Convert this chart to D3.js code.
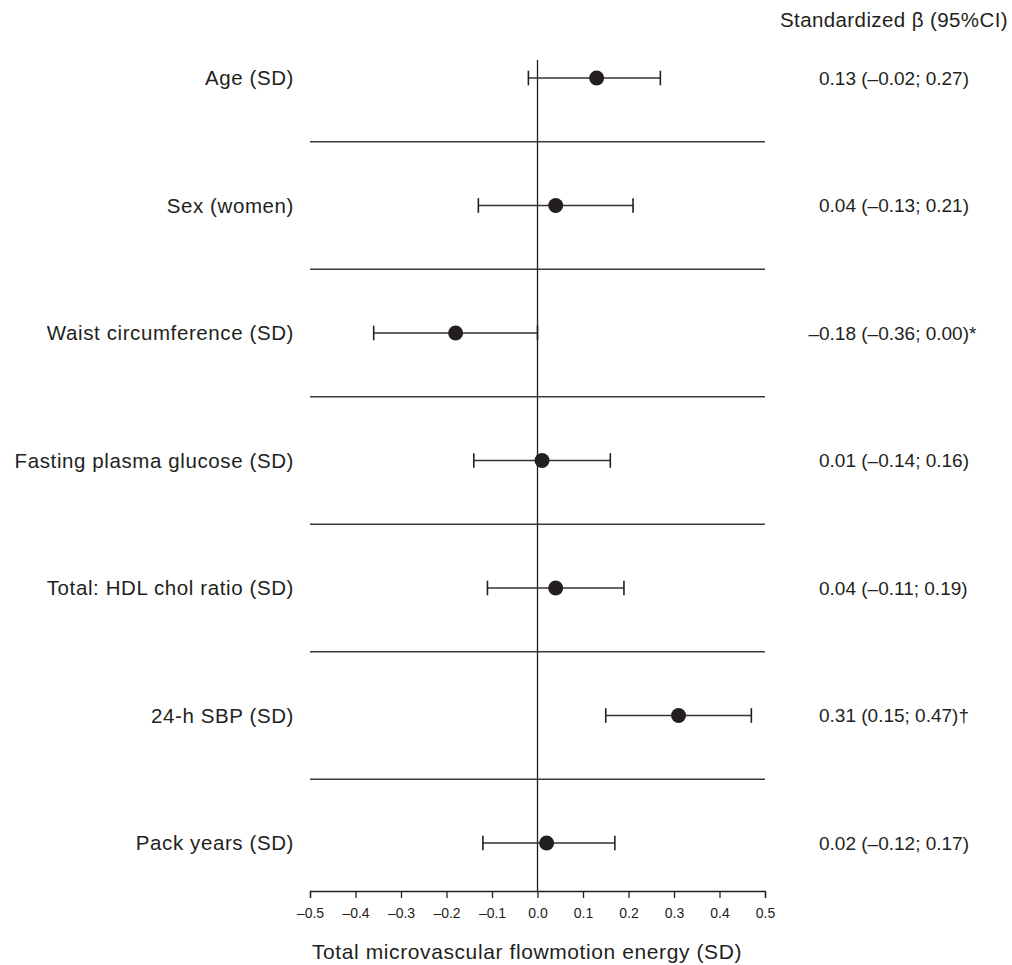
<!DOCTYPE html>
<html>
<head>
<meta charset="utf-8">
<script src="https://cdn.jsdelivr.net/npm/d3@7"></script>
<style>
  body { margin: 0; background: #fff; }
  text { font-family: "Liberation Sans", Arial, Helvetica, sans-serif; fill: #231f20; }
</style>
</head>
<body>
<svg id="chart"></svg>
<script>
// data
var labels = ['Age (SD)', 'Sex (women)', 'Waist circumference (SD)', 'Fasting plasma glucose (SD)',
  'Total: HDL chol ratio (SD)', '24-h SBP (SD)', 'Pack years (SD)'];
var betas = [0.13, 0.04, -0.18, 0.01, 0.04, 0.31, 0.02];
var lower = [-0.02, -0.13, -0.36, -0.14, -0.11, 0.15, -0.12];
var upper = [0.27, 0.21, 0.00, 0.16, 0.19, 0.47, 0.17];
var marks = ['', '', '*', '', '', '\u2020', ''];
var ticks = [-0.5, -0.4, -0.3, -0.2, -0.1, 0.0, 0.1, 0.2, 0.3, 0.4, 0.5];

var width = 1012;
var height = 965;
var ink = '#231f20';

var rows = labels.map(function(d, i) {
  return { label: d, beta: betas[i], lo: lower[i], hi: upper[i], mark: marks[i] };
});

// dash-style minus like the print figure
var dash = function(s) { return s.replace('\u2212', '\u2013').replace('-', '\u2013'); };
var num = function(v) { return dash(d3.format('.2f')(v)); };
var tickFmt = function(v) { return dash(d3.format('.1f')(v)); };

var x = d3.scaleLinear().domain([-0.5, 0.5]).range([310, 765]);
var y = d3.scaleBand().domain(labels).range([14.25, 906.75]);
var axisY = 891;
var estX = 819;

var svg = d3.select('#chart')
  .attr('width', width)
  .attr('height', height);

// separators between rows
svg.append('g')
  .selectAll('line')
  .data(labels.slice(0, -1))
  .enter()
  .append('line')
    .attr('x1', x(-0.5))
    .attr('x2', x(0.5))
    .attr('y1', function(d) { return y(d) + y.bandwidth(); })
    .attr('y2', function(d) { return y(d) + y.bandwidth(); })
    .style('stroke', '#3a3a3a')
    .style('stroke-width', 1.4);

// zero line
svg.append('line')
  .attr('x1', x(0)).attr('x2', x(0))
  .attr('y1', 60).attr('y2', axisY)
  .style('stroke', ink)
  .style('stroke-width', 1.3);

// x axis
var axis = svg.append('g')
  .attr('transform', 'translate(0,' + axisY + ')')
  .call(d3.axisBottom(x).tickValues(ticks).tickFormat(tickFmt).tickSize(7).tickPadding(10).tickSizeOuter(7));
axis.select('.domain').style('stroke', ink).style('stroke-width', 1.3);
axis.selectAll('.tick line').style('stroke', ink).style('stroke-width', 1.3);
axis.selectAll('.tick text')
  .style('font-size', '14px')
  .style('fill', ink)
  .style('font-family', '"Liberation Sans", Arial, sans-serif');

// axis title
svg.append('text')
  .attr('x', 527)
  .attr('y', 952)
  .attr('dy', '0.35em')
  .attr('text-anchor', 'middle')
  .style('font-size', '21px')
  .style('letter-spacing', '0.6px')
  .text('Total microvascular flowmotion energy (SD)');

// column header
svg.append('text')
  .attr('x', 894)
  .attr('y', 20)
  .attr('dy', '0.35em')
  .attr('text-anchor', 'middle')
  .style('font-size', '20.5px')
  .style('letter-spacing', '0.4px')
  .text('Standardized \u03b2 (95%CI)');

var row = svg.selectAll('g.row')
  .data(rows)
  .enter()
  .append('g')
    .attr('class', 'row')
    .attr('transform', function(d) { return 'translate(0,' + (y(d.label) + y.bandwidth() / 2) + ')'; });

// row labels
row.append('text')
  .attr('x', 294)
  .attr('dy', '0.35em')
  .attr('text-anchor', 'end')
  .style('font-size', '20.5px')
  .style('letter-spacing', '0.6px')
  .text(function(d) { return d.label; });

// CI lines and caps
row.append('line')
  .attr('x1', function(d) { return x(d.lo); })
  .attr('x2', function(d) { return x(d.hi); })
  .style('stroke', '#333')
  .style('stroke-width', 1.3);
row.selectAll('line.cap')
  .data(function(d) { return [d.lo, d.hi]; })
  .enter()
  .append('line')
    .attr('class', 'cap')
    .attr('x1', function(v) { return x(v); })
    .attr('x2', function(v) { return x(v); })
    .attr('y1', -7.3)
    .attr('y2', 7.3)
    .style('stroke', ink)
    .style('stroke-width', 1.6);

// point estimates
row.append('circle')
  .attr('cx', function(d) { return x(d.beta); })
  .attr('r', 7.5)
  .style('fill', ink);

// estimate text: aligned on the first digit, a minus sign hangs to the left
row.append('text')
  .attr('x', estX)
  .attr('dy', '0.35em')
  .style('font-size', '19px')
  .text(function(d) {
    return num(Math.abs(d.beta)) + ' (' + num(d.lo) + '; ' + num(d.hi) + ')' + d.mark;
  });
row.filter(function(d) { return d.beta < 0; })
  .append('text')
    .attr('x', estX)
    .attr('dy', '0.35em')
    .attr('text-anchor', 'end')
    .style('font-size', '19px')
    .text('\u2013');
</script>
</body>
</html>
